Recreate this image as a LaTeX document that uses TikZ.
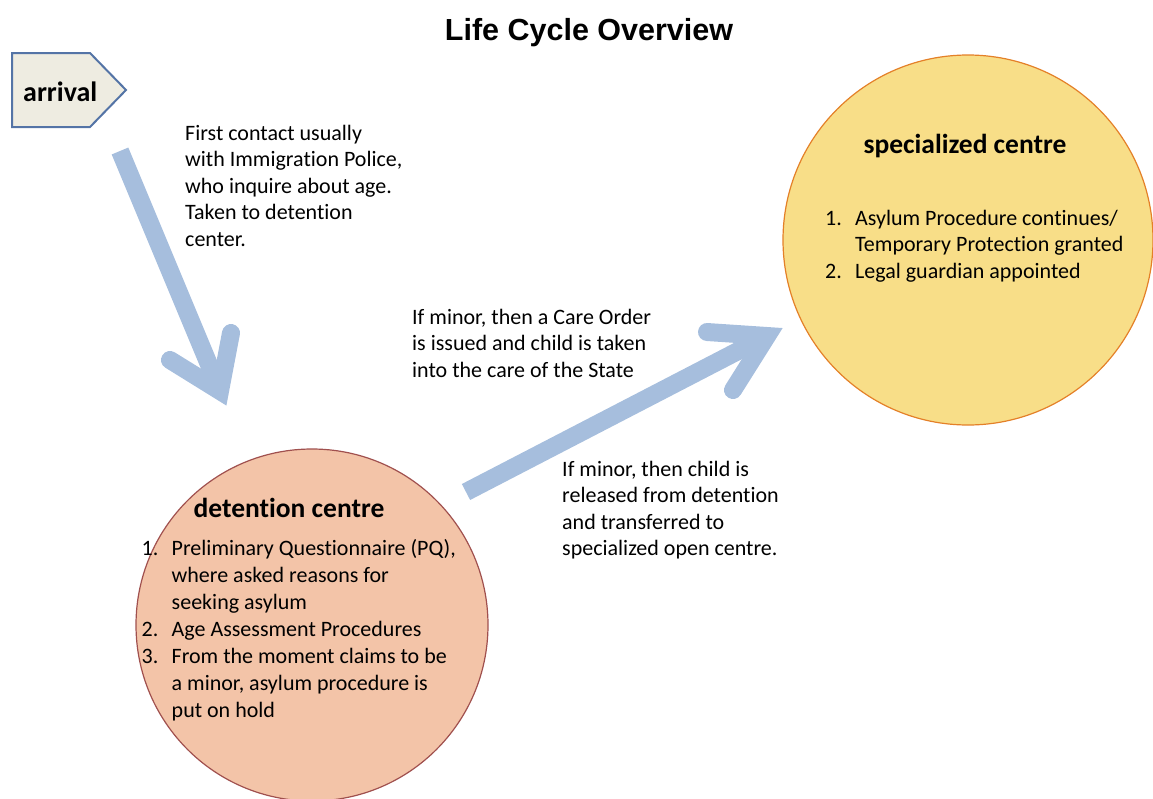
\documentclass[tikz,border=0pt]{standalone}
\usepackage{fontspec}
\setmainfont{Carlito}[Ligatures={NoCommon}]
\newfontfamily\headfont{Liberation Sans}
\definecolor{flowblue}{RGB}{166,190,221}
\definecolor{detfill}{RGB}{243,196,168}
\definecolor{detline}{RGB}{160,80,78}
\definecolor{specfill}{RGB}{248,222,136}
\definecolor{specline}{RGB}{228,128,40}
\definecolor{arrfill}{RGB}{238,236,225}
\definecolor{arrline}{RGB}{84,116,166}
\begin{document}
\begin{tikzpicture}[x=1pt,y=-1pt,
  bodytext/.style={anchor=base west, inner sep=0, font=\fontsize{22}{26.5}\selectfont},
  listtext/.style={anchor=base west, inner sep=0, font=\fontsize{22}{27}\selectfont},
  boldhead/.style={anchor=base, inner sep=0, font=\bfseries\fontsize{27.5}{33}\selectfont},
  centre/.style={circle, inner sep=0, line width=1.2pt},
  flowshaft/.style={draw=flowblue, line width=18pt, line cap=butt},
  flowhead/.style={draw=flowblue, line width=18pt, line cap=round, line join=miter},
]
\useasboundingbox (0,0) rectangle (1153,798);
\clip (0,0) rectangle (1153,798);

% title
\node (title) [anchor=base, inner sep=0, font=\headfont\bfseries\fontsize{30.5}{36}\selectfont]
  at (589,40) {Life Cycle Overview};

% arrival tag
\draw[fill=arrfill, draw=arrline, line width=2pt, line join=miter]
  (12,53) -- (90,53) -- (126,90) -- (90,127) -- (12,127) -- cycle;
\node (arrival) [anchor=base west, inner sep=0, font=\bfseries\fontsize{28}{33}\selectfont]
  at (23,101) {arrival};

% the two centres
\node (det) [centre, fill=detfill, draw=detline, minimum size=352pt] at (312,625) {};
\node (spec) [centre, fill=specfill, draw=specline, minimum size=370pt] at (968,240) {};

% flow arrows
\coordinate (a1s) at (120,151);
\coordinate (a1v) at (220,391);
\coordinate (a1l) at (170,360);
\coordinate (a1r) at (231,333);
\draw[flowshaft] (a1s) -- (a1v);
\draw[flowhead] (a1l) -- (a1v) -- (a1r);

\coordinate (a2s) at (466,492);
\coordinate (a2v) at (767,336);
\coordinate (a2u) at (707,332);
\coordinate (a2d) at (733,390);
\draw[flowshaft] (a2s) -- (a2v);
\draw[flowhead] (a2u) -- (a2v) -- (a2d);

% annotations
\node (note1) [bodytext] at (185,140) {\begin{tabular}[t]{@{}l@{}}
  First contact usually\\ with Immigration Police,\\ who inquire about age.\\
  Taken to detention\\ center.\end{tabular}};
\node (note2) [bodytext] at (412,324) {\begin{tabular}[t]{@{}l@{}}
  If minor, then a Care Order\\ is issued and child is taken\\
  into the care of the State\end{tabular}};
\node (note3) [bodytext] at (562,476) {\begin{tabular}[t]{@{}l@{}}
  If minor, then child is\\ released from detention\\ and transferred to\\
  specialized open centre.\end{tabular}};

% detention centre contents
\node (dethead) [boldhead] at (289,517) {detention centre};
\node (detlist) [listtext] at (141.5,555) {\begin{tabular}[t]{@{}p{30pt}@{}l@{}}
  1. & Preliminary Questionnaire (PQ),\\
     & where asked reasons for\\
     & seeking asylum\\
  2. & Age Assessment Procedures\\
  3. & From the moment claims to be\\
     & a minor, asylum procedure is\\
     & put on hold\end{tabular}};

% specialized centre contents
\node (spechead) [boldhead] at (965,153) {specialized centre};
\node (speclist) [bodytext] at (825,225) {\begin{tabular}[t]{@{}p{30pt}@{}l@{}}
  1. & Asylum Procedure continues/\\
     & Temporary Protection granted\\
  2. & Legal guardian appointed\end{tabular}};
\end{tikzpicture}
\end{document}
